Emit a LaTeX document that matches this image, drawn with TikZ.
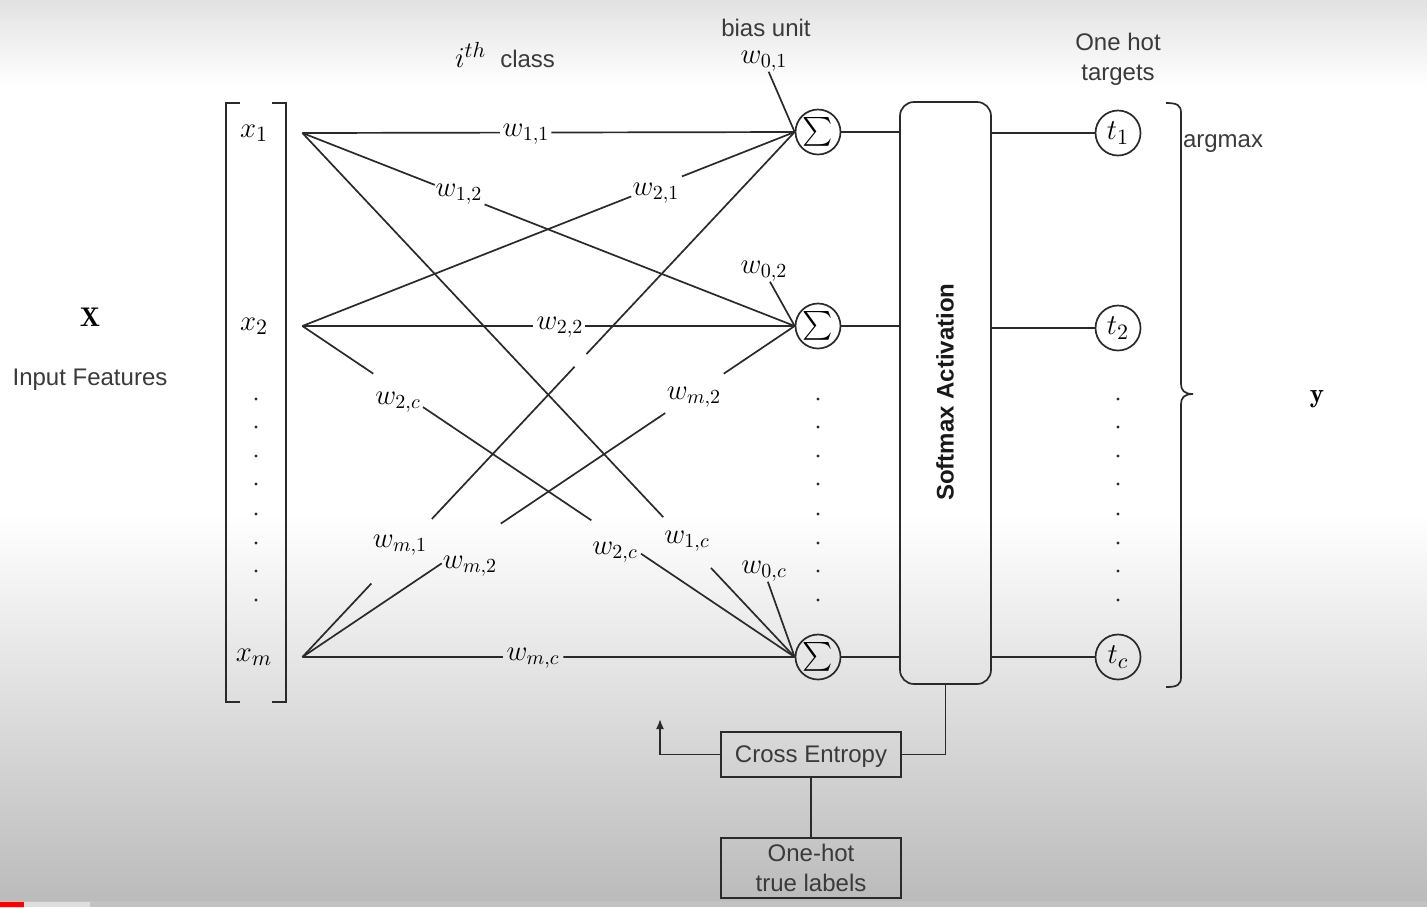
\documentclass[tikz,border=0pt]{standalone}
\usepackage{exscale}
\usepackage{fontspec}
\newfontfamily\arialf{Liberation Sans}
\usetikzlibrary{calc,arrows.meta}
\definecolor{ink}{HTML}{2A2A2A}
\definecolor{txt}{HTML}{3A3A3A}
\definecolor{bgtop}{HTML}{E2E2E2}
\definecolor{bgbot}{HTML}{BBBBBB}
\definecolor{barg}{HTML}{C2C2C2}
\definecolor{barl}{HTML}{DEDEDE}
\definecolor{barr}{HTML}{FF0000}
\begin{document}
\begin{tikzpicture}[x=0.5pt,y=-0.5pt,
  wire/.style={draw=ink,line width=0.85pt},
  wl/.style={font=\fontsize{14.5}{16}\selectfont,inner sep=0pt,text=black},
  sf/.style={font=\arialf\fontsize{12}{14.5}\selectfont,text=txt,align=center,inner sep=0pt},
  sumn/.style={circle,draw=ink,line width=0.85pt,minimum size=22.5pt,inner sep=0pt,font=\fontsize{15}{17}\selectfont},
  xn/.style={minimum width=48pt,inner sep=0pt,font=\fontsize{15}{17}\selectfont},
  boxn/.style={draw=ink,line width=0.85pt}
]
% background
\useasboundingbox (0,0) rectangle (1427,907);
\fill[white] (0,0) rectangle (1427,907);
\shade[top color=bgtop,bottom color=white] (0,0) rectangle (1427,85);
\shade[top color=white,bottom color=bgbot] (0,515) rectangle (1427,901);
\fill[barg] (0,901) rectangle (1427,907);
\fill[barl] (24,902) rectangle (90,907);
\fill[barr] (0,902) rectangle (24,907);

% input vector bracket
\draw[wire] (240,103) -- (226,103) -- (226,702) -- (240,702);
\draw[wire] (272,103) -- (286,103) -- (286,702) -- (272,702);

% input nodes (east anchor = start of the connectors)
\node[xn] (x1) at (254,133) {$x_1$};
\node[xn] (x2) at (254,326) {$x_2$};
\node[xn] (xm) at (254,657) {$x_m$};

% summation nodes
\node[sumn] (s1) at (818,132) {$\sum$};
\node[sumn] (s2) at (818,326) {$\sum$};
\node[sumn] (sc) at (818,657) {$\sum$};

% softmax
\node[boxn,rounded corners=7pt,minimum width=45.5pt,minimum height=291pt] (sm) at (945.5,393) {};
\node[rotate=90,font=\arialf\bfseries\fontsize{12}{14}\selectfont,text=black!90,inner sep=0pt] (smt) at (945,392) {Softmax Activation};

% targets
\node[sumn] (t1) at (1118,133) {$t_1$};
\node[sumn] (t2) at (1118,328) {$t_2$};
\node[sumn] (tc) at (1118,657) {$t_c$};

% dots
\foreach \yy in {399,427,456,484,514,543,571,600} {
  \fill[ink] (256,\yy) circle (0.85pt);
  \fill[ink] (818,\yy) circle (0.85pt);
  \fill[ink] (1118,\yy) circle (0.85pt);
}

% sigma -> softmax -> targets
\draw[wire] (s1) -- (s1 -| sm.west);
\draw[wire] (s2) -- (s2 -| sm.west);
\draw[wire] (sc) -- (sc -| sm.west);
\draw[wire] (sm.east |- t1) -- (t1);
\draw[wire] (sm.east |- t2) -- (t2);
\draw[wire] (sm.east |- tc) -- (tc);

% weight labels
\node[wl] (w11) at (526,134) {$w_{1,1}$};
\node[wl] (w12) at (459,194) {$w_{1,2}$};
\node[wl] (w1c) at (687,541) {$w_{1,c}$};
\node[wl] (w21) at (656,193) {$w_{2,1}$};
\node[wl] (w22) at (560,327) {$w_{2,2}$};
\node[wl] (w2ca) at (398,402) {$w_{2,c}$};
\node[wl] (w2cb) at (615,552) {$w_{2,c}$};
\node[wl] (wm1) at (400,545) {$w_{m,1}$};
\node[wl] (wm2a) at (470,566) {$w_{m,2}$};
\node[wl] (wm2b) at (694,397) {$w_{m,2}$};
\node[wl] (wmc) at (533,658) {$w_{m,c}$};
\node[wl] (w01) at (764,61) {$w_{0,1}$};
\node[wl] (w02) at (764,271) {$w_{0,2}$};
\node[wl] (w0c) at (764,571) {$w_{0,c}$};

% weight connectors (broken around their labels)
\draw[wire] (x1.east) -- ($(x1.east)!0.401!(s1.west)$) ($(x1.east)!0.506!(s1.west)$) -- (s1.west);
\draw[wire] (x1.east) -- ($(x1.east)!0.269!(s2.west)$) ($(x1.east)!0.370!(s2.west)$) -- (s2.west);
\draw[wire] (x1.east) -- ($(x1.east)!0.733!(sc.west)$) ($(x1.east)!0.830!(sc.west)$) -- (sc.west);
\draw[wire] (x2.east) -- ($(x2.east)!0.668!(s1.west)$) ($(x2.east)!0.771!(s1.west)$) -- (s1.west);
\draw[wire] (x2.east) -- ($(x2.east)!0.468!(s2.west)$) ($(x2.east)!0.575!(s2.west)$) -- (s2.west);
\draw[wire] (x2.east) -- ($(x2.east)!0.144!(sc.west)$) ($(x2.east)!0.245!(sc.west)$) -- ($(x2.east)!0.587!(sc.west)$) ($(x2.east)!0.688!(sc.west)$) -- (sc.west);
\draw[wire] (xm.east) -- ($(xm.east)!0.140!(s1.west)$) ($(xm.east)!0.263!(s1.west)$) -- ($(xm.east)!0.553!(s1.west)$) ($(xm.east)!0.577!(s1.west)$) -- (s1.west);
\draw[wire] (xm.east) -- ($(xm.east)!0.283!(s2.west)$) ($(xm.east)!0.403!(s2.west)$) -- ($(xm.east)!0.737!(s2.west)$) ($(xm.east)!0.856!(s2.west)$) -- (s2.west);
\draw[wire] (xm.east) -- ($(xm.east)!0.407!(sc.west)$) ($(xm.east)!0.530!(sc.west)$) -- (sc.west);

% bias connectors
\draw[wire] (w01) -- (s1.west);
\draw[wire] (w02) -- (s2.west);
\draw[wire] (w0c) -- (sc.west);

% brace
\draw[wire] (1166,103) .. controls (1177,103) and (1181,105) .. (1181,113) -- (1181,384)
  .. controls (1181,390) and (1184,394) .. (1193,394)
  .. controls (1184,394) and (1181,398) .. (1181,404) -- (1181,677)
  .. controls (1181,685) and (1177,687) .. (1166,687);

% texts
\node[sf] (argmax) at (1223,144) {argmax};
\node[font=\fontsize{13.5}{15}\selectfont,inner sep=0pt] (ylab) at (1317,399) {$\mathbf{y}$};
\node[font=\fontsize{13.5}{15}\selectfont,inner sep=0pt] (Xlab) at (90,317) {$\mathbf{X}$};
\node[sf] (inf) at (90,380) {Input Features};
\node[sf] (bias) at (766,28) {bias unit};
\node[sf] (oht) at (1118,59) {One hot\\[0.5pt]targets};
\node[inner sep=0pt] (cls) at (505,55) {\fontsize{15}{16}\selectfont$i^{th}$\ \,{\arialf\fontsize{12}{14}\selectfont\color{txt}class}};

% loss part
\node[boxn,minimum width=90pt,minimum height=22.5pt] (ce) at (811,754.5) {};
\node[sf] (cet) at (811,757) {Cross Entropy};
\node[boxn,sf,minimum width=90pt,minimum height=30pt] (oh) at (811,868) {One-hot\\[0.5pt]true labels};
\coordinate (fb) at (660,719);
\draw[wire] (sm.south) |- (ce.east);
\draw[wire,-{Latex[length=5pt,width=4pt]}] (ce.west) -| (fb);
\draw[wire] (ce.south) -- (oh.north);
\end{tikzpicture}
\end{document}
